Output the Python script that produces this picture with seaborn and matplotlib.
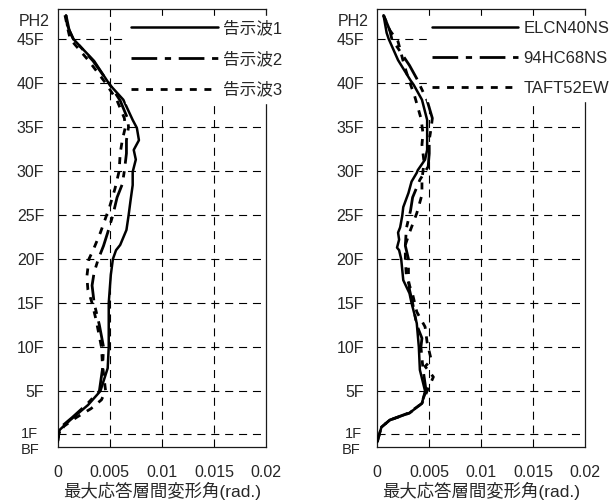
import numpy as np
import pandas as pd
import matplotlib
matplotlib.use("Agg")
import matplotlib.pyplot as plt
import matplotlib.transforms as mtransforms
import seaborn as sns

# ---------------- data ----------------
ytick_labels = ["BF", "1F", "5F", "10F", "15F", "20F", "25F", "30F", "35F", "40F", "45F", "PH2"]
ytick_levels = [-1.36, 0.1, 5, 10, 15, 20, 25, 30, 35, 40, 45, 47.2]
xtick_values = [0, 0.005, 0.01, 0.015, 0.02]
xtick_labels = ["0", "0.005", "0.01", "0.015", "0.02"]

left_names = ["告示波1", "告示波2", "告示波3"]
right_names = ["ELCN40NS", "94HC68NS", "TAFT52EW"]

k1_level = [47.7, 46.6, 45.0, 42.5, 39.8, 38.1, 35.8, 34.9, 33.5, 32.4, 31.3, 29.9, 28.4, 26.7, 24.9,
            23.3, 21.6, 21.0, 20.0, 18.2, 15.0, 10.0, 7.6, 5.0, 3.4, 1.7, 0.6, 0.1, -0.8]
k1_drift = [0.0008, 0.0009, 0.0015, 0.0035, 0.0050, 0.0063, 0.0072, 0.0076, 0.0078, 0.0073, 0.0075,
            0.0072, 0.0072, 0.0070, 0.0068, 0.0066, 0.0060, 0.0056, 0.0053, 0.0051, 0.0049, 0.0049,
            0.0048, 0.0041, 0.0029, 0.0012, 0.0002, 0.0001, 0.0]

k2_level = [47.7, 46.0, 45.0, 42.5, 40.0, 38.0, 36.0, 35.0, 33.5, 32.0, 30.0, 28.5, 27.0, 25.0, 23.0,
            21.5, 20.0, 18.5, 17.0, 15.0, 12.5, 10.0, 7.5, 5.0, 3.5, 2.0, 1.0, 0.1, -0.8]
k2_drift = [0.0008, 0.0011, 0.0015, 0.0034, 0.0049, 0.0060, 0.0067, 0.0068, 0.0066, 0.0066, 0.0064,
            0.0062, 0.0057, 0.0053, 0.0048, 0.0044, 0.0039, 0.0035, 0.0033, 0.0035, 0.0040, 0.0044,
            0.0043, 0.0040, 0.0028, 0.0014, 0.0004, 0.0001, 0.0]

k3_level = [47.7, 46.0, 45.0, 42.5, 40.0, 38.0, 36.0, 35.0, 33.5, 32.0, 30.0, 28.0, 26.0, 25.0, 23.0,
            21.0, 20.0, 18.0, 16.5, 15.0, 13.0, 10.0, 8.0, 6.0, 5.0, 4.0, 3.0, 2.0, 1.0, 0.1, -0.8]
k3_drift = [0.0007, 0.0010, 0.0012, 0.0030, 0.0046, 0.0057, 0.0064, 0.0065, 0.0062, 0.0060, 0.0059,
            0.0055, 0.0050, 0.0047, 0.0041, 0.0034, 0.0030, 0.0028, 0.0029, 0.0033, 0.0037, 0.0042,
            0.0043, 0.0045, 0.0046, 0.0042, 0.0032, 0.0018, 0.0006, 0.0001, 0.0]

e1_level = [47.7, 45.7, 45.0, 42.6, 40.3, 39.8, 38.1, 35.8, 34.9, 32.4, 31.3, 30.1, 29.8, 28.8, 27.5,
            25.9, 24.9, 23.6, 23.0, 22.2, 21.3, 21.0, 20.0, 17.6, 16.1, 15.0, 12.7, 10.0, 7.4, 5.0,
            3.6, 2.5, 1.7, 0.9, 0.1, -0.8]
e1_drift = [0.0006, 0.0009, 0.0011, 0.0020, 0.0032, 0.0035, 0.0043, 0.0048, 0.0048, 0.0048, 0.0046,
            0.0039, 0.0038, 0.0033, 0.0030, 0.0025, 0.0024, 0.0022, 0.0020, 0.0021, 0.0019, 0.0021,
            0.0023, 0.0025, 0.0031, 0.0033, 0.0038, 0.0040, 0.0041, 0.0046, 0.0043, 0.0031, 0.0012,
            0.0004, 0.0002, 0.0]

e2_level = [47.7, 46.0, 45.0, 42.0, 40.5, 38.0, 36.0, 35.0, 33.5, 32.0, 30.5, 29.0, 27.0, 25.5, 23.5,
            21.5, 20.0, 18.0, 16.5, 15.0, 12.5, 11.0, 10.0, 7.5, 5.0, 3.5, 2.5, 1.7, 0.9, 0.1, -0.8]
e2_drift = [0.0006, 0.0012, 0.0014, 0.0031, 0.0038, 0.0048, 0.0053, 0.0052, 0.0050, 0.0050, 0.0049,
            0.0041, 0.0034, 0.0032, 0.0028, 0.0027, 0.0030, 0.0030, 0.0031, 0.0034, 0.0038, 0.0043,
            0.0042, 0.0044, 0.0047, 0.0042, 0.0030, 0.0012, 0.0004, 0.0002, 0.0]

e3_level = [47.7, 46.0, 44.7, 42.0, 40.5, 38.5, 36.0, 34.3, 33.0, 31.0, 29.0, 27.3, 25.2, 23.0, 21.6,
            20.0, 18.0, 16.0, 14.0, 12.3, 10.5, 8.5, 7.8, 6.6, 5.0, 3.6, 2.5, 1.7, 0.9, 0.1, -0.8]
e3_drift = [0.0006, 0.0012, 0.0020, 0.0026, 0.0030, 0.0036, 0.0042, 0.0044, 0.0043, 0.0045, 0.0043,
            0.0043, 0.0038, 0.0031, 0.0027, 0.0027, 0.0028, 0.0034, 0.0038, 0.0046, 0.0048, 0.0052,
            0.0046, 0.0054, 0.0048, 0.0043, 0.0031, 0.0012, 0.0004, 0.0002, 0.0]

xlabel_text = "最大応答層間変形角(rad.)"

# ---------------- style ----------------
sns.set_style("white")
plt.rcParams["font.family"] = ["Liberation Sans", "Noto Sans CJK JP"]
plt.rcParams["lines.scale_dashes"] = False
plt.rcParams["axes.unicode_minus"] = False

styles = [
    dict(linestyle="-", linewidth=1.8),
    dict(linestyle=(0, (18.5, 5.5, 4.5, 5.5)), linewidth=2.0),
    dict(linestyle=(0, (5.0, 5.5)), linewidth=2.0),
]

fig = plt.figure(figsize=(6.13, 5.01), dpi=100)
W, H = 613.0, 501.0
ax_l = fig.add_axes([57.7 / W, (H - 447) / H, 208.3 / W, 438 / H])
ax_r = fig.add_axes([377.3 / W, (H - 447) / H, 207.7 / W, 438 / H])

# per-label pixel nudges (dx, dy) matching the reference label placement
panels = [
    (ax_l, [(k1_drift, k1_level), (k2_drift, k2_level), (k3_drift, k3_level)], left_names,
     (0.33, 0.985), {"PH2": (5.7, 0), "1F": (-6.0, 1.5), "BF": (-5.0, -1.5)}),
    (ax_r, [(e1_drift, e1_level), (e2_drift, e2_level), (e3_drift, e3_level)], right_names,
     (0.237, 0.985), {"PH2": (5.0, 0), "1F": (-2.0, 1.5), "BF": (-3.0, -1.5)}),
]

for ax, series, names, lpos, offs in panels:
    for (d, lv), name, st in zip(series, names, styles):
        df = pd.DataFrame({"drift": d, "level": lv})
        sns.lineplot(data=df, x="drift", y="level", sort=False, estimator=None,
                     color="black", label=name, ax=ax, zorder=3, **st)
    ax.set_xlim(0, 0.02)
    ax.set_ylim(-1.36, 48.41)
    # grid lines
    for xv in xtick_values[1:-1]:
        ax.axvline(xv, color="black", lw=0.8, linestyle=(0, (5.8, 4.2)), zorder=1)
    for lab, lv in zip(ytick_labels, ytick_levels):
        if lab in ("BF", "PH2"):
            continue
        ax.axhline(lv, color="black", lw=0.8, linestyle=(0, (5.8, 4.2)), zorder=1)
    ax.set_xticks(xtick_values)
    ax.set_xticklabels(xtick_labels, fontsize=11.5)
    ax.set_yticks(ytick_levels)
    ax.set_yticklabels(ytick_labels, fontsize=11.5)
    ax.tick_params(axis="x", length=0, pad=13.0)
    ax.tick_params(axis="y", length=0, pad=9.6)
    ax.set_xlabel(xlabel_text, fontsize=12.5, labelpad=1.0)
    ax.set_ylabel("")
    for sp in ax.spines.values():
        sp.set_visible(True)
        sp.set_color("#1a1a1a")
        sp.set_linewidth(0.9)
    leg = ax.legend(loc="upper left", bbox_to_anchor=lpos, bbox_transform=ax.transAxes,
                    fontsize=12, handlelength=5.2, handletextpad=0.3, labelspacing=0.9,
                    borderpad=0.3, borderaxespad=0.0, frameon=True, fancybox=False,
                    framealpha=1.0, facecolor="white", edgecolor="white")
    leg.set_zorder(10)
    for lbl in ax.get_yticklabels():
        t = lbl.get_text()
        if t in offs:
            dx, dy = offs[t]
            if t in ("1F", "BF"):
                lbl.set_fontsize(10.5)
            lbl.set_transform(lbl.get_transform() +
                              mtransforms.ScaledTranslation(dx / 100.0, dy / 100.0,
                                                            fig.dpi_scale_trans))

fig.savefig("out.png", dpi=100)
